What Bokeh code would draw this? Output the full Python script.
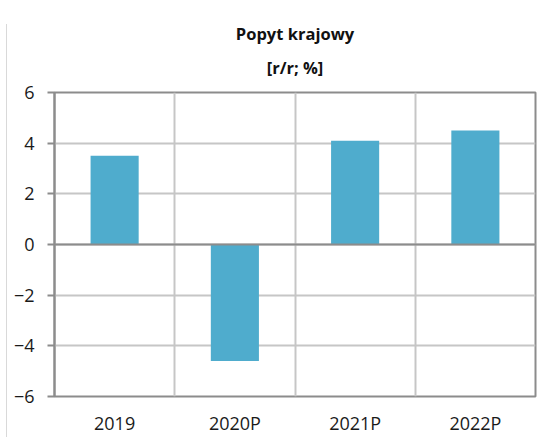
from bokeh.plotting import figure
from bokeh.models import ColumnDataSource, FixedTicker, Span, Title, Range1d
from bokeh.embed import file_html
from bokeh.resources import INLINE

categories = ["2019", "2020P", "2021P", "2022P"]
values = [3.5, -4.6, 4.1, 4.5]
y_ticks = [-6, -4, -2, 0, 2, 4, 6]
title_line1 = "Popyt krajowy"
title_line2 = "[r/r; %]"

xpos = [i + 0.5 for i in range(len(categories))]
src = ColumnDataSource(dict(x=xpos, top=values, cat=categories))

FONT = "Open Sans"
DARK = "#8c8c8c"
LIGHT = "#c6c6c6"

p = figure(width=540, height=413, output_backend="svg", toolbar_location=None,
           x_range=Range1d(0, len(categories)), y_range=Range1d(-6, 6),
           min_border_left=47, min_border_right=12, min_border_top=0, min_border_bottom=40,
           styles={"border-left": "1px solid #d9d9d9", "margin-top": "24px",
                   "margin-left": "6px"})
p.title = None

t2 = Title(text=title_line2, align="center", text_font=FONT, text_font_size="16.5px",
           text_font_style="bold", text_color="#111111", standoff=28, offset=-4)
t1 = Title(text=title_line1, align="center", text_font=FONT, text_font_size="16.5px",
           text_font_style="bold", text_color="#111111", standoff=-10, offset=-4)
p.add_layout(t2, "above")
p.add_layout(t1, "above")

p.vbar(x="x", top="top", bottom=0, width=0.4, source=src, fill_color="#4FACCD",
       line_color=None)

p.outline_line_color = DARK
p.outline_line_width = 2

# y axis
p.yaxis.ticker = FixedTicker(ticks=y_ticks)
p.yaxis.axis_line_color = DARK
p.yaxis.axis_line_width = 2
p.yaxis.major_tick_line_color = DARK
p.yaxis.major_tick_line_width = 2
p.yaxis.major_tick_out = 7
p.yaxis.major_tick_in = 0
p.yaxis.minor_tick_line_color = None
p.yaxis.major_label_text_font = FONT
p.yaxis.major_label_text_font_size = "18px"
p.yaxis.major_label_text_color = "#1a1a1a"
p.yaxis.major_label_standoff = 13

# x axis
p.xaxis.ticker = FixedTicker(ticks=xpos)
p.xaxis.major_label_overrides = {x: c for x, c in zip(xpos, categories)}
p.xaxis.axis_line_color = None
p.xaxis.major_tick_line_color = None
p.xaxis.minor_tick_line_color = None
p.xaxis.major_label_text_font = FONT
p.xaxis.major_label_text_font_size = "18px"
p.xaxis.major_label_text_color = "#1a1a1a"
p.xaxis.major_label_standoff = 8

p.xgrid.ticker = FixedTicker(ticks=[1, 2, 3])
p.xgrid.grid_line_color = LIGHT
p.xgrid.grid_line_width = 2
p.ygrid.grid_line_color = LIGHT
p.ygrid.grid_line_width = 2

p.add_layout(Span(location=0, dimension="width", line_color=DARK, line_width=2))

open("out.html", "w").write(file_html(p, INLINE))
